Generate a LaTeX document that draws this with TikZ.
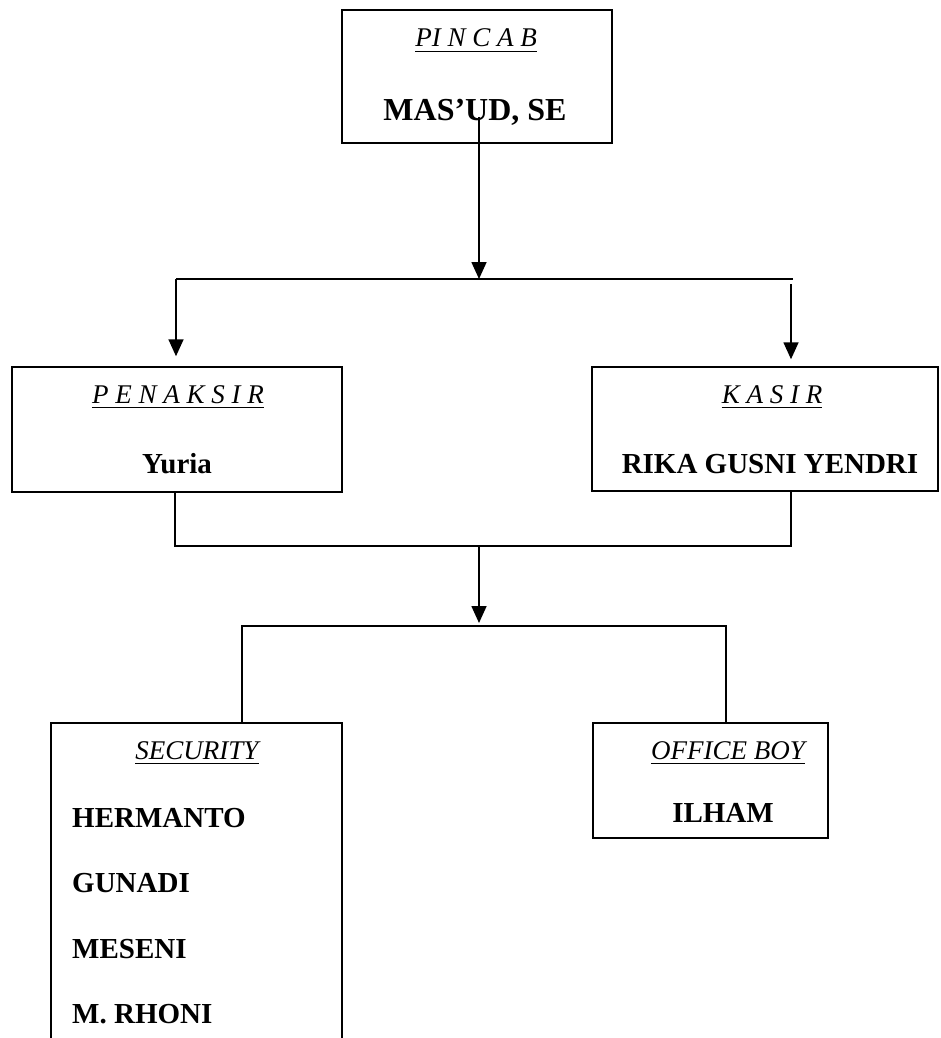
\documentclass[tikz,border=0pt]{standalone}
\usepackage{fontspec}
\setmainfont{Liberation Serif}
\newfontfamily\hdsp[WordSpace=1.55]{Liberation Serif Italic}
\newfontfamily\hdnorm{Liberation Serif Italic}
\usetikzlibrary{arrows.meta}
\begin{document}
\begin{tikzpicture}[x=1pt,y=-1pt,
  box/.style={draw, line width=1.5pt, rectangle, inner sep=0pt},
  conn/.style={line width=1.7pt},
  arr/.style={line width=1.7pt, -{Triangle[width=15pt,length=17pt]}},
  hdr/.style={anchor=base, inner sep=0pt, font=\hdsp\fontsize{27}{32}\selectfont},
  hdrn/.style={anchor=base, inner sep=0pt, font=\hdnorm\fontsize{27}{32}\selectfont},
  nm/.style={anchor=base, inner sep=0pt, font=\bfseries\fontsize{29}{34}\selectfont},
  nml/.style={anchor=base west, inner sep=0pt, font=\bfseries\fontsize{29}{34}\selectfont},
  ul/.style={line width=1.3pt}]
\useasboundingbox (0,0) rectangle (940,1038);
% boxes
\node[box, minimum width=270pt, minimum height=133pt] (pincab) at (477,76.5) {};
\node[box, minimum width=330pt, minimum height=125pt] (penaksir) at (177,429.5) {};
\node[box, minimum width=346pt, minimum height=124pt] (kasir) at (765,429) {};
\node[box, minimum width=291pt, minimum height=357pt] (security) at (196.5,901.5) {};
\node[box, minimum width=235pt, minimum height=115pt] (office) at (710.5,780.5) {};
% texts
\node[hdr] (h1) at (476,47) {PI N C A B};
\node[nm, font=\bfseries\fontsize{32}{38}\selectfont] (n1) at (475,121) {MAS’UD, SE};
\node[hdr] (h2) at (178,403) {P E N A K S I R};
\node[nm] (n2) at (177,473) {Yuria};
\node[hdr] (h3) at (772,403) {K A S I R};
\node[nm] (n3) at (770,473) {RIKA GUSNI YENDRI};
\node[hdrn] (h4) at (197,759) {SECURITY};
\node[nml] (s1) at (72,827) {HERMANTO};
\node[nml] (s2) at (72,892) {GUNADI};
\node[nml] (s3) at (72,958) {MESENI};
\node[nml] (s4) at (72,1023) {M. RHONI};
\node[hdrn] (h5) at (728,759) {OFFICE BOY};
\node[nm] (n5) at (723,822) {ILHAM};
\foreach \n in {h1,h2,h3,h4,h5}
  \draw[ul] ([yshift=-4.5pt]\n.base west) -- ([yshift=-4.5pt]\n.base east);
% connectors
\coordinate (t0) at (479,117);
\coordinate (j1) at (479,279);
\coordinate (jl) at (176,279);
\coordinate (jr) at (793,279);
\coordinate (jr2) at (791,284);
\draw[arr] (t0) -- (j1);
\draw[conn] (jl) -- (jr);
\draw[arr, shorten >=10pt] (jl) -- (jl |- penaksir.north);
\draw[arr, shorten >=7pt] (jr2) -- (jr2 |- kasir.north);
\coordinate (b1) at (175,546);
\coordinate (b2) at (791,546);
\coordinate (b0) at (479,546);
\coordinate (c1) at (479,626);
\draw[conn] (b1 |- penaksir.south) -- (b1) -- (b2) -- (b2 |- kasir.south);
\draw[arr, shorten >=3pt] (b0) -- (c1);
\coordinate (cl) at (242,626);
\coordinate (cr) at (726,626);
\draw[conn] (cl |- security.north) -- (cl) -- (cr) -- (cr |- office.north);
\end{tikzpicture}
\end{document}
